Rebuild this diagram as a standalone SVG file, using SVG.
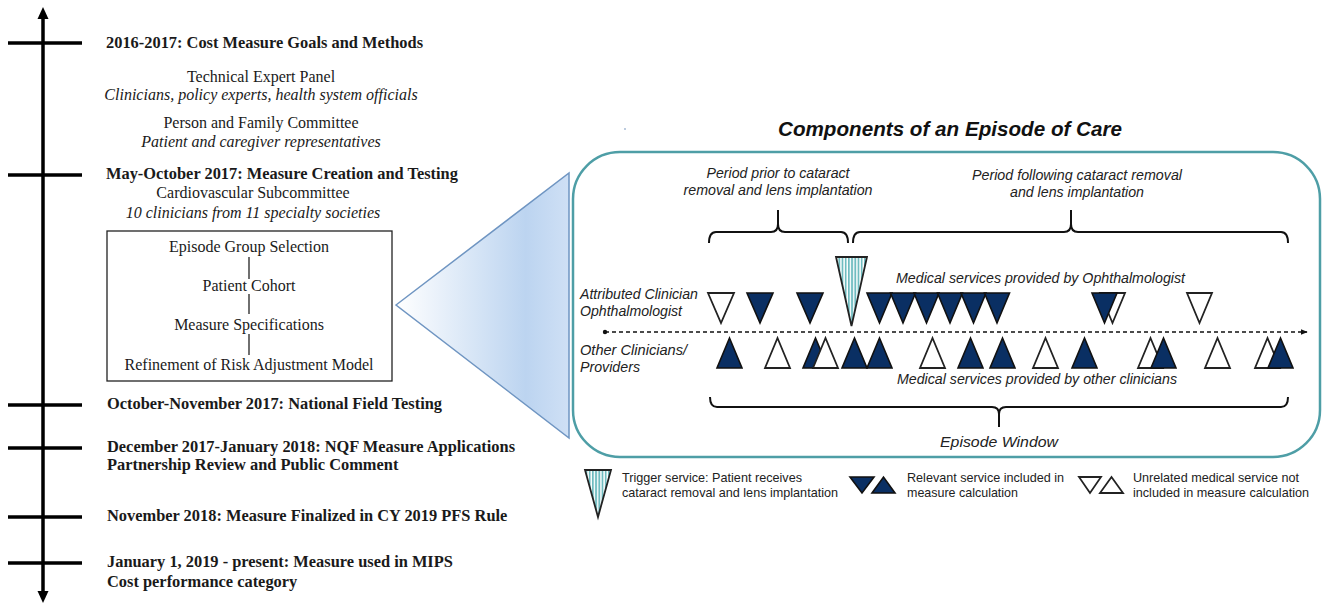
<svg xmlns="http://www.w3.org/2000/svg" width="1327" height="605" viewBox="0 0 1327 605">
<style>
.tl{stroke:#000;stroke-width:3.5;fill:none}
.bt{font-family:"Liberation Serif",serif;font-weight:bold;font-size:16.4px;fill:#1a1a1a}
.rt{font-family:"Liberation Serif",serif;font-size:16px;fill:#1a1a1a}
.it{font-family:"Liberation Serif",serif;font-style:italic;font-size:16px;fill:#1a1a1a}
.lab{font-family:"Liberation Sans",Arial,sans-serif;font-style:italic;font-size:14px;fill:#222}
.leg{font-family:"Liberation Sans",Arial,sans-serif;font-size:13px;fill:#222}
.nv{fill:#0a2f63;stroke:#111;stroke-width:1.6;stroke-linejoin:miter}
.wh{fill:#fff;stroke:#222;stroke-width:1.8}
.tr{fill:url(#stripes);stroke:#222;stroke-width:1.8}
.br{fill:none;stroke:#111;stroke-width:2}
</style>
<defs>
<pattern id="stripes" patternUnits="userSpaceOnUse" width="3.2" height="10">
<rect width="3.2" height="10" fill="#ffffff"/>
<rect width="1.8" height="10" fill="#6fbcc0"/>
</pattern>
<linearGradient id="fun" x1="0" y1="0" x2="1" y2="0">
<stop offset="0" stop-color="#ffffff"/>
<stop offset="0.75" stop-color="#bcd4f0"/>
<stop offset="1" stop-color="#cfe0f5"/>
</linearGradient>
<marker id="ah" viewBox="0 0 10 10" refX="9" refY="5" markerWidth="7" markerHeight="7" orient="auto" markerUnits="userSpaceOnUse">
<path d="M0,1 L10,5 L0,9 z" fill="#111"/>
</marker>
</defs>
<rect width="1327" height="605" fill="#fff"/>

<g id="timeline-axis">
<line x1="43" y1="16" x2="43" y2="594" class="tl" stroke-width="3"/>
<polygon points="43,7 37.5,19 48.5,19" fill="#000"/>
<polygon points="43,603 37.5,591 48.5,591" fill="#000"/>
<line x1="8" y1="43" x2="82" y2="43" class="tl"/>
<line x1="8" y1="175" x2="82" y2="175" class="tl"/>
<line x1="8" y1="405" x2="82" y2="405" class="tl"/>
<line x1="8" y1="448" x2="82" y2="448" class="tl"/>
<line x1="8" y1="517" x2="82" y2="517" class="tl"/>
<line x1="8" y1="563" x2="82" y2="563" class="tl"/>
</g>

<g id="t2016">
<text class="bt" x="106" y="48">2016-2017: Cost Measure Goals and Methods</text>
<text class="rt" x="261" y="82" text-anchor="middle">Technical Expert Panel</text>
<text class="it" x="261" y="100" text-anchor="middle">Clinicians, policy experts, health system officials</text>
<text class="rt" x="261" y="128" text-anchor="middle">Person and Family Committee</text>
<text class="it" x="261" y="147" text-anchor="middle">Patient and caregiver representatives</text>
</g>

<g id="t2017may">
<text class="bt" x="106" y="179">May-October 2017: Measure Creation and Testing</text>
<text class="rt" x="253" y="198" text-anchor="middle">Cardiovascular Subcommittee</text>
<text class="it" x="253" y="218" text-anchor="middle">10 clinicians from 11 specialty societies</text>
</g>

<g id="process-box">
<rect x="107" y="231" width="285" height="150" fill="#fff" stroke="#222" stroke-width="1.3"/>
<text class="rt" x="249" y="252" text-anchor="middle">Episode Group Selection</text>
<text class="rt" x="249" y="291" text-anchor="middle">Patient Cohort</text>
<text class="rt" x="249" y="330" text-anchor="middle">Measure Specifications</text>
<text class="rt" x="249" y="370" text-anchor="middle">Refinement of Risk Adjustment Model</text>
</g>

<g id="t2017oct"><text class="bt" x="107" y="409">October-November 2017: National Field Testing</text></g>
<g id="t2017dec">
<text class="bt" x="107" y="452">December 2017-January 2018: NQF Measure Applications</text>
<text class="bt" x="107" y="470">Partnership Review and Public Comment</text>
</g>
<g id="t2018nov"><text class="bt" x="107" y="521">November 2018: Measure Finalized in CY 2019 PFS Rule</text></g>
<g id="t2019">
<text class="bt" x="107" y="567">January 1, 2019 - present: Measure used in MIPS</text>
<text class="bt" x="107" y="587">Cost performance category</text>
</g>

<g id="zoom-funnel">
<polygon points="396,305 569,173 569,438" fill="url(#fun)" stroke="#6f95c2" stroke-width="1.5"/>
</g>

<g id="episode-panel">
<circle cx="625" cy="129" r="0.9" fill="#9db4d0"/>
<text x="950" y="136" text-anchor="middle" textLength="344" lengthAdjust="spacingAndGlyphs" font-family="'Liberation Sans',Arial,sans-serif" font-size="19.5" font-weight="bold" font-style="italic" fill="#111">Components of an Episode of Care</text>
<rect x="573" y="152" width="747" height="305" rx="47" ry="47" fill="none" stroke="#4e9ea6" stroke-width="2.5"/>
<text class="lab" x="778" y="178" text-anchor="middle" textLength="143" lengthAdjust="spacingAndGlyphs">Period prior to cataract</text>
<text class="lab" x="778" y="195" text-anchor="middle" textLength="189" lengthAdjust="spacingAndGlyphs">removal and lens implantation</text>
<text class="lab" x="1077" y="180" text-anchor="middle" textLength="210" lengthAdjust="spacingAndGlyphs">Period following cataract removal</text>
<text class="lab" x="1077" y="197" text-anchor="middle" textLength="134" lengthAdjust="spacingAndGlyphs">and lens implantation</text>
<text class="lab" x="580" y="299" textLength="118" lengthAdjust="spacingAndGlyphs">Attributed Clinician</text>
<text class="lab" x="580" y="316" textLength="102" lengthAdjust="spacingAndGlyphs">Ophthalmologist</text>
<text class="lab" x="580" y="355" textLength="107" lengthAdjust="spacingAndGlyphs">Other Clinicians/</text>
<text class="lab" x="580" y="372" textLength="60" lengthAdjust="spacingAndGlyphs">Providers</text>
<text class="lab" x="896" y="283" textLength="289" lengthAdjust="spacingAndGlyphs">Medical services provided by Ophthalmologist</text>
<text class="lab" x="897" y="384" textLength="280" lengthAdjust="spacingAndGlyphs">Medical services provided by other clinicians</text>
<text class="lab" x="999" y="447" text-anchor="middle" textLength="118" lengthAdjust="spacingAndGlyphs" font-size="15">Episode Window</text>
</g>

<g id="ophthalmologist-services">
<polygon class="wh" points="708,293 734,293 721,323"/>
<polygon class="nv" points="747,293 773,293 760,323"/>
<polygon class="nv" points="797,293 823,293 810,323"/>
<polygon class="nv" points="867,293 892,293 879.5,323"/>
<polygon class="nv" points="890.5,293 915.5,293 903,323"/>
<polygon class="nv" points="914,293 939,293 926.5,323"/>
<polygon class="nv" points="937.5,293 962.5,293 950,323"/>
<polygon class="nv" points="961,293 986,293 973.5,323"/>
<polygon class="nv" points="984.5,293 1009.5,293 997,323"/>
<polygon class="tr" points="836,257 867,257 851.5,326"/>
<polygon class="wh" points="1100,293 1125,293 1112.5,323"/>
<polygon class="nv" points="1092,293 1117,293 1104.5,323"/>
<polygon class="wh" points="1187,293 1212,293 1199.5,323"/>
</g>

<g id="other-services">
<polygon class="nv" points="717,368 742,368 729.5,338"/>
<polygon class="wh" points="765,368 790,368 777.5,338"/>
<polygon class="nv" points="803,368 828,368 815.5,338"/>
<polygon class="wh" points="813,368 838,368 825.5,338"/>
<polygon class="nv" points="842,368 867,368 854.5,338"/>
<polygon class="nv" points="867,368 892,368 879.5,338"/>
<polygon class="wh" points="920,368 945,368 932.5,338"/>
<polygon class="nv" points="958,368 983,368 970.5,338"/>
<polygon class="nv" points="990,368 1015,368 1002.5,338"/>
<polygon class="wh" points="1033,368 1058,368 1045.5,338"/>
<polygon class="nv" points="1072,368 1097,368 1084.5,338"/>
<polygon class="wh" points="1138,368 1163,368 1150.5,338"/>
<polygon class="nv" points="1151,368 1176,368 1163.5,338"/>
<polygon class="wh" points="1205,368 1230,368 1217.5,338"/>
<polygon class="wh" points="1255,368 1280,368 1267.5,338"/>
<polygon class="nv" points="1268,368 1293,368 1280.5,338"/>
</g>

<g id="connectors">
<line x1="249" y1="257" x2="249" y2="279" stroke="#222" stroke-width="1.3"/>
<line x1="249" y1="294" x2="249" y2="314" stroke="#222" stroke-width="1.3"/>
<line x1="249" y1="334" x2="249" y2="355" stroke="#222" stroke-width="1.3"/>
<circle cx="605" cy="332" r="2.2" fill="#111"/>
<line x1="605" y1="332" x2="1307" y2="332" stroke="#111" stroke-width="1.5" stroke-dasharray="4 3" marker-end="url(#ah)"/>
<path class="br" d="M709,243 Q709,232 716,232 L771,232 Q778,232 778,224 L778,210 M778,224 Q778,232 785,232 L841,232 Q848,232 848,243"/>
<path class="br" d="M853,243 Q853,232 860,232 L1064,232 Q1071,232 1071,224 L1071,210 M1071,224 Q1071,232 1078,232 L1281,232 Q1288,232 1288,243"/>
<path class="br" d="M710,397 Q710,407 717,407 L992,407 Q999,407 999,414 L999,427 M999,414 Q999,407 1006,407 L1281,407 Q1288,407 1288,397"/>
</g>

<g id="legend">
<polygon class="tr" points="585,470 611,470 598,517"/>
<text class="leg" x="622" y="482" textLength="180" lengthAdjust="spacingAndGlyphs">Trigger service: Patient receives</text>
<text class="leg" x="622" y="497" textLength="216" lengthAdjust="spacingAndGlyphs">cataract removal and lens implantation</text>
<polygon class="nv" points="850,477 874,477 862,493"/>
<polygon class="nv" points="872,493 895,493 883.5,477"/>
<text class="leg" x="907" y="482" textLength="157" lengthAdjust="spacingAndGlyphs">Relevant service included in</text>
<text class="leg" x="907" y="497" textLength="111" lengthAdjust="spacingAndGlyphs">measure calculation</text>
<polygon class="wh" points="1079,477 1101,477 1090,493"/>
<polygon class="wh" points="1100,493 1123,493 1111.5,477"/>
<text class="leg" x="1133" y="482" textLength="166" lengthAdjust="spacingAndGlyphs">Unrelated medical service not</text>
<text class="leg" x="1133" y="497" textLength="176" lengthAdjust="spacingAndGlyphs">included in measure calculation</text>
</g>
</svg>
